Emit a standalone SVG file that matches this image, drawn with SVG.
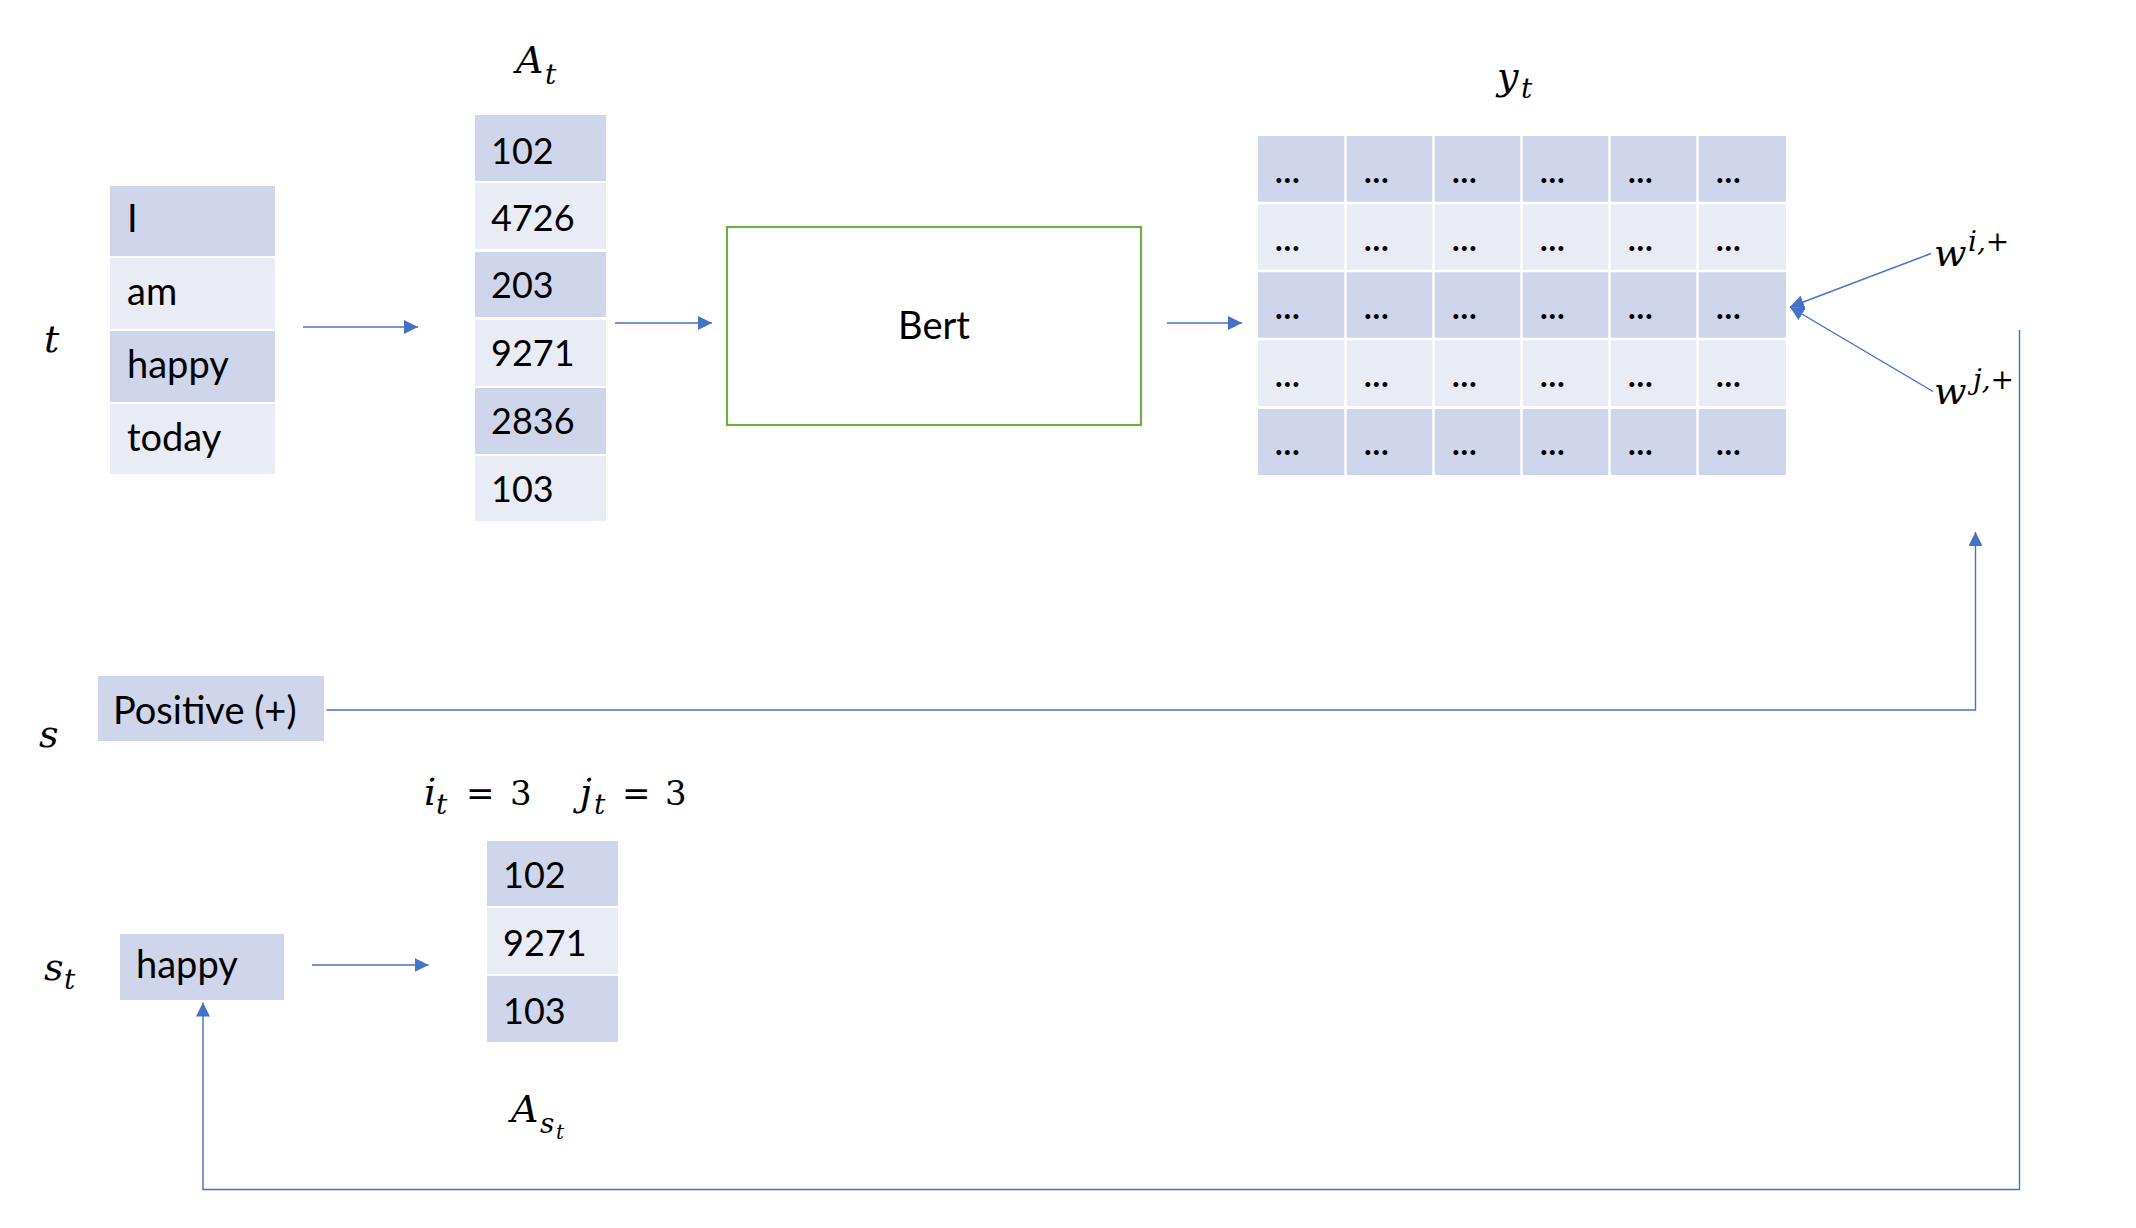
<svg xmlns="http://www.w3.org/2000/svg" width="2136" height="1228" viewBox="0 0 2136 1228">
<defs>
<style>
.dark{fill:#CFD5EA}
.light{fill:#E9EBF5}
.txt{font-family:Lato,"Open Sans","Liberation Sans",sans-serif;font-size:36px;fill:#000}
.word{font-size:38px}
.dots{font-family:Lato,"Liberation Sans",sans-serif;font-size:32px;font-weight:bold;fill:#000}
.math{font-family:"DejaVu Serif","Liberation Serif",serif;font-style:italic;font-size:38px;fill:#000}
.sub{font-family:"DejaVu Serif","Liberation Serif",serif;font-style:italic;font-size:28px;fill:#000}
.up{font-family:"DejaVu Serif","Liberation Serif",serif;font-size:34px;fill:#000}
.conn{stroke:#4472C4;stroke-width:1.4;fill:none}
</style>
<marker id="arr" markerUnits="userSpaceOnUse" markerWidth="14" markerHeight="14" refX="14" refY="7" orient="auto">
<path d="M0,0 L14,7 L0,14 z" fill="#4472C4"/>
</marker>
</defs>
<rect width="2136" height="1228" fill="#fff"/>

<g id="label-t"><text class="math" x="44" y="352">t</text></g>
<g id="words">
<rect class="dark" x="110" y="186" width="165" height="70"/>
<rect class="light" x="110" y="258" width="165" height="71"/>
<rect class="dark" x="110" y="331" width="165" height="71"/>
<rect class="light" x="110" y="404" width="165" height="70"/>
<text class="txt word" x="127" y="232">I</text>
<text class="txt word" x="127" y="305">am</text>
<text class="txt word" x="127" y="378">happy</text>
<text class="txt word" x="127" y="451">today</text>
</g>

<g id="label-At"><text class="math" x="516" y="73">A</text><text class="sub" x="545" y="84">t</text></g>
<g id="At">
<rect class="dark" x="475" y="115" width="131" height="66"/>
<rect class="light" x="475" y="183" width="131" height="66"/>
<rect class="dark" x="475" y="252" width="131" height="65"/>
<rect class="light" x="475" y="320" width="131" height="66"/>
<rect class="dark" x="475" y="388" width="131" height="66"/>
<rect class="light" x="475" y="456" width="131" height="65"/>
<text class="txt" x="491" y="164">102</text>
<text class="txt" x="491" y="231">4726</text>
<text class="txt" x="491" y="298">203</text>
<text class="txt" x="491" y="366">9271</text>
<text class="txt" x="491" y="434">2836</text>
<text class="txt" x="491" y="502">103</text>
</g>

<g id="bert">
<rect x="727" y="227" width="414" height="198" fill="#fff" stroke="#70AD47" stroke-width="2.2"/>
<text class="txt word" x="934" y="339" text-anchor="middle">Bert</text>
</g>

<g id="label-yt"><text class="math" x="1497" y="89">y</text><text class="sub" x="1521" y="98">t</text></g>
<g id="yt">
<rect class="dark" x="1258" y="136" width="528" height="66"/>
<rect class="light" x="1258" y="204" width="528" height="66"/>
<rect class="dark" x="1258" y="272" width="528" height="66"/>
<rect class="light" x="1258" y="340" width="528" height="66"/>
<rect class="dark" x="1258" y="409" width="528" height="66"/>
<g stroke="#fff" stroke-width="2.5">
<line x1="1345.5" y1="136" x2="1345.5" y2="475"/>
<line x1="1433.5" y1="136" x2="1433.5" y2="475"/>
<line x1="1521.5" y1="136" x2="1521.5" y2="475"/>
<line x1="1609.5" y1="136" x2="1609.5" y2="475"/>
<line x1="1697.5" y1="136" x2="1697.5" y2="475"/>
<line x1="1258" y1="203" x2="1786" y2="203"/>
<line x1="1258" y1="271" x2="1786" y2="271"/>
<line x1="1258" y1="339" x2="1786" y2="339"/>
<line x1="1258" y1="407.5" x2="1786" y2="407.5"/>
</g>
<g class="dots">
<text x="1275" y="183">…</text><text x="1364" y="183">…</text><text x="1452" y="183">…</text><text x="1540" y="183">…</text><text x="1628" y="183">…</text><text x="1716" y="183">…</text>
<text x="1275" y="251">…</text><text x="1364" y="251">…</text><text x="1452" y="251">…</text><text x="1540" y="251">…</text><text x="1628" y="251">…</text><text x="1716" y="251">…</text>
<text x="1275" y="319">…</text><text x="1364" y="319">…</text><text x="1452" y="319">…</text><text x="1540" y="319">…</text><text x="1628" y="319">…</text><text x="1716" y="319">…</text>
<text x="1275" y="387">…</text><text x="1364" y="387">…</text><text x="1452" y="387">…</text><text x="1540" y="387">…</text><text x="1628" y="387">…</text><text x="1716" y="387">…</text>
<text x="1275" y="455">…</text><text x="1364" y="455">…</text><text x="1452" y="455">…</text><text x="1540" y="455">…</text><text x="1628" y="455">…</text><text x="1716" y="455">…</text>
</g>
</g>

<g id="label-wi"><text class="math" x="1934" y="266">w</text><text class="sub" x="1968" y="251">i,+</text></g>
<g id="label-wj"><text class="math" x="1934" y="404">w</text><text class="sub" x="1973" y="389">j,+</text></g>

<g id="label-s"><text class="math" x="39" y="747">s</text></g>
<g id="positive">
<rect class="dark" x="98" y="676" width="226" height="65"/>
<text class="txt word" x="113" y="724">Positive (+)</text>
</g>

<g id="label-ij">
<text class="math" x="424" y="805">i</text><text class="sub" x="436" y="814">t</text>
<text class="up" x="466" y="805">=</text><text class="up" x="510" y="805">3</text>
<text class="math" x="580" y="805">j</text><text class="sub" x="594" y="814">t</text>
<text class="up" x="622" y="805">=</text><text class="up" x="665" y="805">3</text>
</g>

<g id="label-st"><text class="math" x="44" y="980">s</text><text class="sub" x="64" y="989">t</text></g>
<g id="st">
<rect class="dark" x="120" y="934" width="164" height="66"/>
<text class="txt word" x="136" y="978">happy</text>
</g>

<g id="Ast">
<rect class="dark" x="487" y="841" width="131" height="65"/>
<rect class="light" x="487" y="908" width="131" height="66"/>
<rect class="dark" x="487" y="976" width="131" height="66"/>
<text class="txt" x="503" y="888">102</text>
<text class="txt" x="503" y="956">9271</text>
<text class="txt" x="503" y="1024">103</text>
</g>
<g id="label-Ast"><text class="math" x="511" y="1122">A</text><text class="sub" x="540" y="1133">s</text><text class="sub" x="556" y="1139" style="font-size:20px">t</text></g>

<g id="connectors">
<line class="conn" x1="303" y1="327" x2="418" y2="327" marker-end="url(#arr)"/>
<line class="conn" x1="615" y1="323" x2="712" y2="323" marker-end="url(#arr)"/>
<line class="conn" x1="1167" y1="323" x2="1242" y2="323" marker-end="url(#arr)"/>
<line class="conn" x1="1931" y1="253.5" x2="1790" y2="307" marker-end="url(#arr)"/>
<line class="conn" x1="1933" y1="391.5" x2="1790" y2="307" marker-end="url(#arr)"/>
<polyline class="conn" points="326.5,710 1975.5,710 1975.5,532" marker-end="url(#arr)"/>
<polyline class="conn" points="2019.5,330 2019.5,1189.5 203,1189.5 203,1002.5" marker-end="url(#arr)"/>
<line class="conn" x1="312" y1="965" x2="428.6" y2="965" marker-end="url(#arr)"/>
</g>
</svg>
